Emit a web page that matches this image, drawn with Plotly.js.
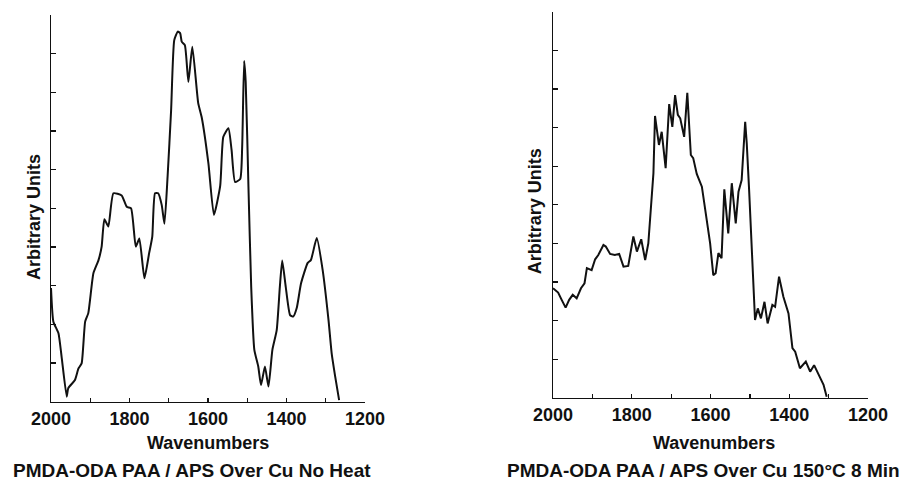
<!DOCTYPE html>
<html>
<head>
<meta charset="utf-8">
<script src="https://cdn.plot.ly/plotly-3.0.1.min.js"></script>
<style>
  html, body { margin: 0; padding: 0; background: #ffffff; }
  #chart { width: 906px; height: 485px; }
</style>
</head>
<body>
<div id="chart"></div>
<script>
// IR spectrum, PMDA-ODA PAA / APS over Cu, no heat
const wnNoHeat = [2000, 1994, 1981, 1973, 1960, 1956, 1939, 1930, 1922, 1913, 1905, 1892, 1879, 1871, 1864, 1854,
  1841, 1820, 1807, 1796, 1784, 1775, 1762, 1750, 1742, 1735, 1727, 1718, 1711, 1703, 1694, 1686,
  1677, 1671, 1667, 1659, 1650, 1640, 1625, 1616, 1599, 1585, 1569, 1561, 1548, 1540, 1531, 1518,
  1513, 1508, 1504, 1497, 1490, 1482, 1472, 1465, 1455, 1446, 1436, 1425, 1417, 1411, 1402, 1391,
  1383, 1374, 1363, 1346, 1338, 1323, 1308, 1293, 1285, 1276, 1266];
const auNoHeat = [2.94, 2.07, 1.77, 1.16, 0.13, 0.35, 0.56, 0.86, 0.99, 2.07, 2.29, 3.32, 3.66, 4.01, 4.72, 4.53,
  5.39, 5.33, 5.04, 5.00, 4.01, 4.22, 3.19, 3.84, 4.27, 5.39, 5.39, 5.09, 4.60, 5.82, 7.54, 9.35,
  9.57, 9.53, 9.31, 9.22, 8.27, 9.18, 7.72, 7.35, 6.16, 4.83, 5.58, 6.85, 7.07, 6.51, 5.68, 5.76,
  6.59, 8.81, 8.27, 5.56, 2.97, 1.34, 0.91, 0.43, 0.91, 0.39, 1.34, 1.85, 2.97, 3.65, 2.97, 2.24,
  2.20, 2.42, 3.06, 3.59, 3.66, 4.23, 3.41, 2.11, 1.25, 0.65, 0.04];

// Same film after 150 °C for 8 min
const wnHeated = [2000, 1987, 1978, 1968, 1959, 1950, 1940, 1929, 1920, 1914, 1902, 1893, 1885, 1872, 1866, 1855,
  1843, 1832, 1821, 1809, 1796, 1787, 1776, 1766, 1758, 1751, 1745, 1741, 1731, 1724, 1714, 1705,
  1697, 1690, 1683, 1677, 1667, 1659, 1650, 1644, 1635, 1622, 1610, 1601, 1593, 1587, 1580, 1572,
  1565, 1555, 1546, 1536, 1529, 1521, 1512, 1508, 1502, 1495, 1487, 1480, 1472, 1463, 1455, 1443,
  1436, 1426, 1415, 1402, 1392, 1385, 1373, 1358, 1347, 1337, 1324, 1313, 1305];
const auHeated = [2.84, 2.73, 2.54, 2.34, 2.54, 2.67, 2.58, 2.84, 2.97, 3.36, 3.31, 3.59, 3.70, 3.96, 3.92, 3.73,
  3.70, 3.73, 3.40, 3.42, 4.18, 3.79, 4.11, 3.57, 4.00, 5.04, 5.82, 7.30, 6.55, 6.89, 5.95, 7.61,
  7.02, 7.84, 7.33, 7.24, 6.76, 7.90, 6.29, 6.21, 5.80, 5.47, 4.61, 4.00, 3.18, 3.23, 3.75, 3.62,
  5.40, 4.26, 5.56, 4.52, 5.34, 5.64, 7.15, 6.59, 5.38, 3.66, 2.02, 2.32, 2.06, 2.49, 1.93, 2.41,
  2.36, 3.14, 2.62, 2.19, 1.29, 1.20, 0.77, 0.94, 0.68, 0.85, 0.55, 0.34, 0.03];

// Axis ticks
const xTickVals = [2000, 1900, 1800, 1700, 1600, 1500, 1400, 1300, 1200];
const xTickText = ['2000', '', '1800', '', '1600', '', '1400', '', '1200'];
const yTickVals = [0, 1, 2, 3, 4, 5, 6, 7, 8, 9, 10];

const FONT = 'Liberation Sans, Arial, Helvetica, sans-serif';
const INK = '#111111';

const traces = [
  { x: wnNoHeat, y: auNoHeat, xaxis: 'x', yaxis: 'y', type: 'scatter', mode: 'lines',
    line: { color: INK, width: 2, shape: 'spline', smoothing: 0.5 }, hoverinfo: 'x+y' },
  { x: wnHeated, y: auHeated, xaxis: 'x2', yaxis: 'y2', type: 'scatter', mode: 'lines',
    line: { color: INK, width: 2 }, hoverinfo: 'x+y' }
];

function xAxis(domain, anchor) {
  return {
    domain: domain, anchor: anchor, range: [2000, 1200], autorange: false,
    tickmode: 'array', tickvals: xTickVals, ticktext: xTickText,
    ticks: 'inside', ticklen: 4, tickwidth: 1.2, tickcolor: INK,
    showline: true, linecolor: INK, linewidth: 1.5,
    showgrid: false, zeroline: false,
    tickfont: { family: FONT, size: 18, color: INK, weight: 'bold' }
  };
}
function yAxis(domain, anchor) {
  return {
    domain: domain, anchor: anchor, range: [0, 10], autorange: false,
    tickmode: 'array', tickvals: yTickVals, showticklabels: false,
    ticks: 'inside', ticklen: 5, tickwidth: 1.2, tickcolor: INK,
    showline: true, linecolor: INK, linewidth: 1.5,
    showgrid: false, zeroline: false
  };
}

const labelFont = { family: FONT, size: 18, color: INK, weight: 'bold' };
const captionFont = { family: FONT, size: 19, color: INK, weight: 'bold' };

const layout = {
  width: 906, height: 485, autosize: false,
  margin: { l: 0, r: 0, t: 0, b: 0 },
  paper_bgcolor: '#ffffff', plot_bgcolor: '#ffffff',
  showlegend: false,
  xaxis: xAxis([0.0563, 0.4029], 'y'),
  yaxis: yAxis([0.1718, 0.9691], 'x'),
  xaxis2: xAxis([0.6104, 0.9581], 'y2'),
  yaxis2: yAxis([0.1794, 0.9759], 'x2'),
  annotations: [
    { text: 'Arbitrary Units', xref: 'paper', yref: 'paper', x: 0.0370, y: 0.5515,
      textangle: -90, showarrow: false, font: labelFont, xanchor: 'center', yanchor: 'middle' },
    { text: 'Arbitrary Units', xref: 'paper', yref: 'paper', x: 0.5900, y: 0.5633,
      textangle: -90, showarrow: false, font: labelFont, xanchor: 'center', yanchor: 'middle' },
    { text: 'Wavenumbers', xref: 'paper', yref: 'paper', x: 0.2301, y: 0.0866,
      showarrow: false, font: labelFont, xanchor: 'center', yanchor: 'middle' },
    { text: 'Wavenumbers', xref: 'paper', yref: 'paper', x: 0.7881, y: 0.0866,
      showarrow: false, font: labelFont, xanchor: 'center', yanchor: 'middle' },
    { text: 'PMDA-ODA PAA / APS Over Cu No Heat', xref: 'paper', yref: 'paper', x: 0.2119, y: 0.0289,
      showarrow: false, font: captionFont, xanchor: 'center', yanchor: 'middle' },
    { text: 'PMDA-ODA PAA / APS Over Cu 150°C 8 Min', xref: 'paper', yref: 'paper', x: 0.7765, y: 0.0289,
      showarrow: false, font: captionFont, xanchor: 'center', yanchor: 'middle' }
  ]
};

Plotly.newPlot('chart', traces, layout, { displayModeBar: false, staticPlot: true });
</script>
</body>
</html>
